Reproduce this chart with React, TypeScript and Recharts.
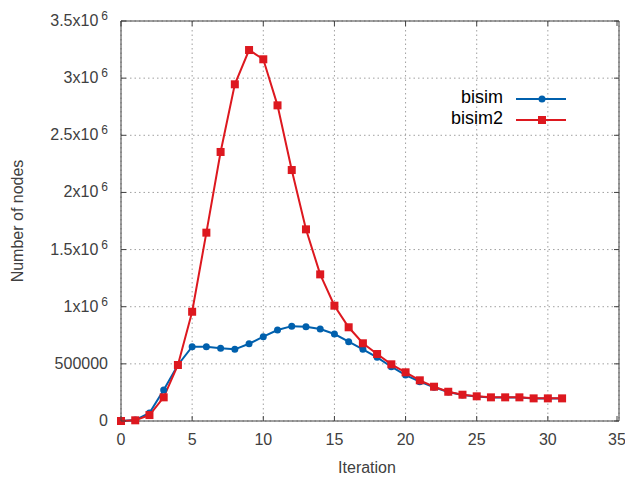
import { CartesianGrid, Line, LineChart, ReferenceArea, XAxis, YAxis } from "recharts";

const iterations = [0, 1, 2, 3, 4, 5, 6, 7, 8, 9, 10, 11, 12, 13, 14, 15, 16, 17, 18, 19, 20, 21, 22, 23, 24, 25, 26, 27, 28, 29, 30, 31];

const bisim = [
  0, 8000, 70000, 271000, 490000, 650000, 650000, 636000, 627000, 676000,
  738000, 796000, 830000, 825000, 805000, 761000, 694000, 627000, 557000, 475000,
  402000, 344000, 295000, 254000, 228000, 214000, 205000, 205000, 205000, 196000,
  196000, 196000,
];

const bisim2 = [
  0, 6000, 52000, 207000, 490000, 956000, 1648000, 2354000, 2946000, 3246000,
  3165000, 2762000, 2196000, 1677000, 1283000, 1009000, 820000, 680000, 586000, 496000,
  426000, 356000, 300000, 256000, 230000, 216000, 207000, 207000, 207000, 198000,
  198000, 198000,
];

const xTicks = [0, 5, 10, 15, 20, 25, 30, 35];
const yTicks = [0, 500000, 1000000, 1500000, 2000000, 2500000, 3000000, 3500000];

const data = iterations.map((iter, i) => ({ iter, bisim: bisim[i], bisim2: bisim2[i] }));

const W = 625;
const H = 478;
const LEFT = 121;
const TOP = 21;
const RIGHT = 619;
const BOTTOM = 421;
const FONT = "'Liberation Sans', Arial, sans-serif";
const TEXT = "#404040";
const BORDER = "#404040";
const BLUE = "#0060ad";
const RED = "#dd181f";

const XTick = (props: any) => {
  const { x, y, payload } = props;
  return (
    <g>
      <line x1={x} y1={y} x2={x} y2={y - 5} stroke={BORDER} />
      <line x1={x} y1={y - (BOTTOM - TOP)} x2={x} y2={y - (BOTTOM - TOP) + 5} stroke={BORDER} />
      <text x={x} y={y + 24} textAnchor="middle" fill={TEXT} fontSize={16} fontFamily={FONT}>
        {payload.value}
      </text>
    </g>
  );
};

const YTick = (props: any) => {
  const { x, y, payload } = props;
  const v = payload.value as number;
  let label;
  if (v < 1000000) {
    label = <tspan>{v}</tspan>;
  } else {
    label = (
      <>
        <tspan>{`${v / 1000000}x10`}</tspan>
        <tspan dx={3} dy={-6} fontSize={12}>6</tspan>
      </>
    );
  }
  return (
    <g>
      <line x1={x} y1={y} x2={x + 5} y2={y} stroke={BORDER} />
      <line x1={x + (RIGHT - LEFT)} y1={y} x2={x + (RIGHT - LEFT) - 5} y2={y} stroke={BORDER} />
      <text x={x - 13} y={y + 5} textAnchor="end" fill={TEXT} fontSize={16} fontFamily={FONT}>
        {label}
      </text>
    </g>
  );
};

const Square = (props: any) => {
  const { cx, cy, index } = props;
  return <rect key={`sq-${index}`} x={cx - 4} y={cy - 4} width={8} height={8} fill={RED} />;
};

const YLabel = () => (
  <text
    x={23}
    y={(TOP + BOTTOM) / 2}
    transform={`rotate(-90, 23, ${(TOP + BOTTOM) / 2})`}
    textAnchor="middle"
    fill={TEXT}
    fontSize={16}
    fontFamily={FONT}
  >
    Number of nodes
  </text>
);

export default function App() {
  return (
    <div style={{ position: "absolute", left: 0, top: 0, width: W, height: H, background: "#fff" }}>
      <LineChart width={W} height={H} data={data} margin={{ top: TOP, right: W - RIGHT, bottom: 0, left: 0 }}>
        <CartesianGrid stroke="#a0a0a0" strokeDasharray="1.5 3" />
        <XAxis
          dataKey="iter"
          type="number"
          domain={[0, 35]}
          ticks={xTicks}
          height={H - BOTTOM}
          tickLine={false}
          axisLine={false}
          tickSize={0}
          tickMargin={0}
          tick={<XTick />}
          label={{ value: "Iteration", position: "insideBottom", offset: 5, dx: -3, fill: TEXT, fontSize: 16, fontFamily: FONT }}
        />
        <YAxis
          type="number"
          domain={[0, 3500000]}
          ticks={yTicks}
          width={LEFT}
          tickLine={false}
          axisLine={false}
          tickSize={0}
          tickMargin={0}
          tick={<YTick />}
          label={<YLabel />}
        />
        <ReferenceArea x1={0} x2={35} y1={0} y2={3500000} fill="none" stroke={BORDER} strokeWidth={1} ifOverflow="visible" />
        <Line
          dataKey="bisim"
          stroke={BLUE}
          strokeWidth={2}
          dot={{ r: 3.5, fill: BLUE, stroke: BLUE, strokeWidth: 0 }}
          isAnimationActive={false}
        />
        <Line
          dataKey="bisim2"
          stroke={RED}
          strokeWidth={2}
          dot={<Square />}
          isAnimationActive={false}
        />
      </LineChart>
      <svg width={W} height={H} style={{ position: "absolute", left: 0, top: 0, pointerEvents: "none" }}>
        <text x={503} y={103} textAnchor="end" fill="#000" fontSize={18} fontFamily={FONT}>bisim</text>
        <line x1={516} y1={99} x2={566} y2={99} stroke={BLUE} strokeWidth={2} />
        <circle cx={542} cy={99} r={3.5} fill={BLUE} />
        <text x={503} y={124} textAnchor="end" fill="#000" fontSize={18} fontFamily={FONT}>bisim2</text>
        <line x1={516} y1={120} x2={566} y2={120} stroke={RED} strokeWidth={2} />
        <rect x={538} y={116} width={8} height={8} fill={RED} />
      </svg>
    </div>
  );
}
